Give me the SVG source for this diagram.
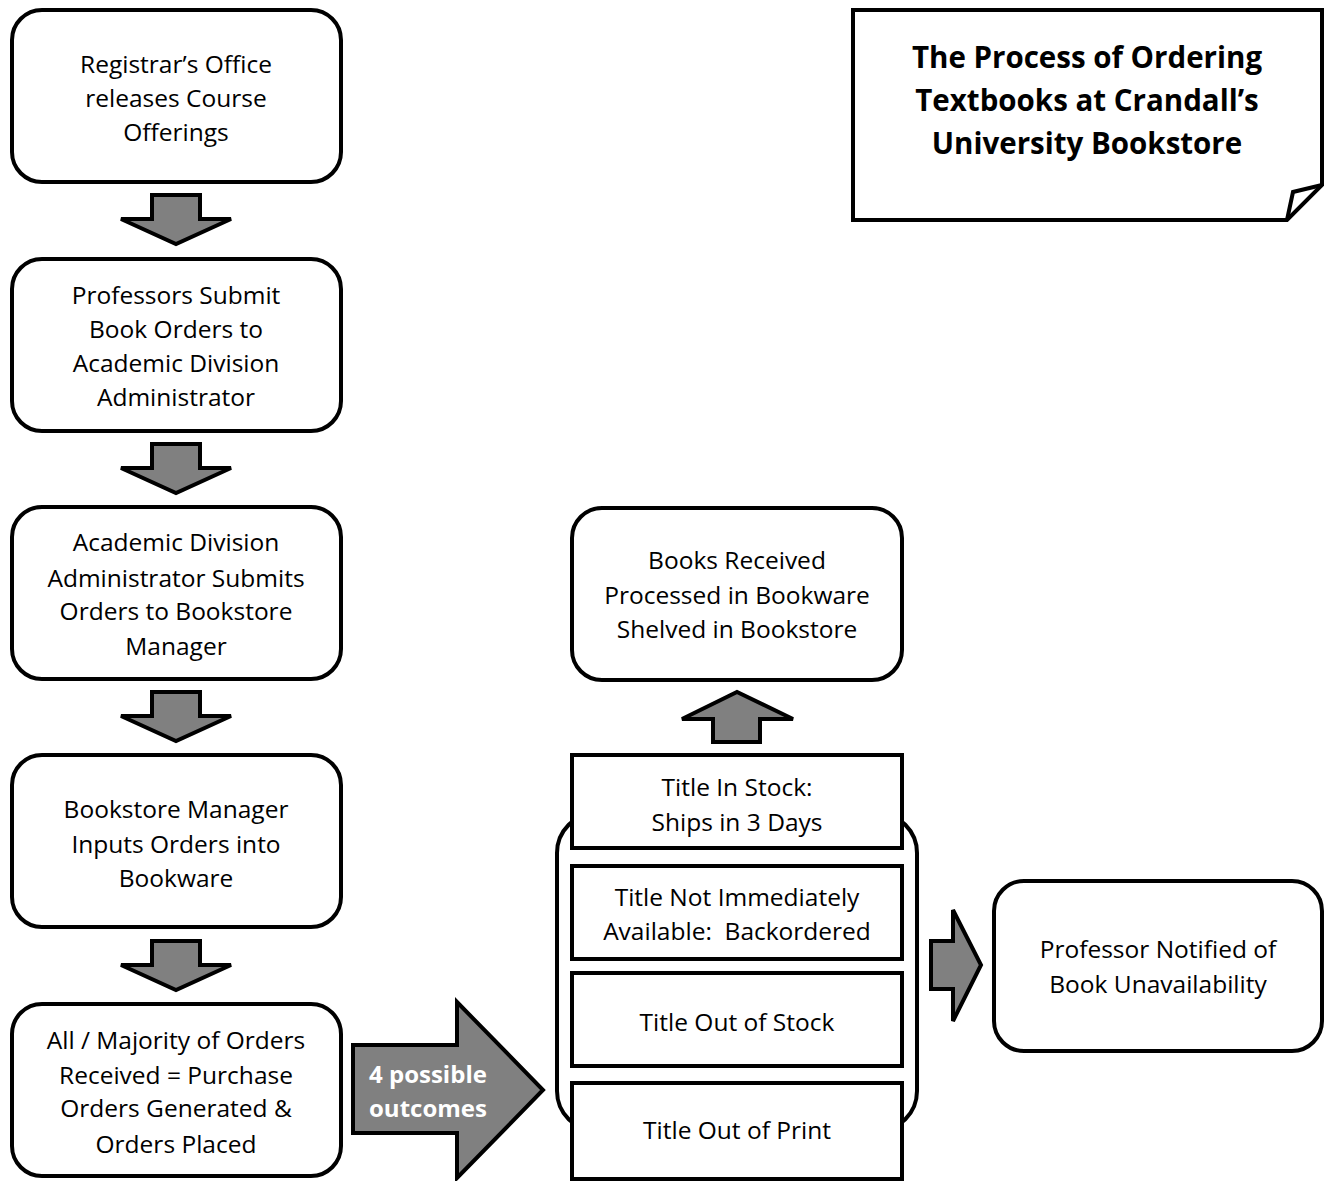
<svg xmlns="http://www.w3.org/2000/svg" width="1335" height="1181" viewBox="0 0 1335 1181">
<style>
.box{fill:#fff;stroke:#000;stroke-width:4}
.arr{fill:#808080;stroke:#000;stroke-width:4;stroke-linejoin:miter}
.t{font-family:"Open Sans","Noto Sans",sans-serif;font-size:24.5px;fill:#000;text-anchor:middle;dominant-baseline:central}
.title{font-family:"Open Sans","Noto Sans",sans-serif;font-size:29.5px;font-weight:bold;fill:#000;text-anchor:middle;dominant-baseline:central}
.w{font-family:"Open Sans","Noto Sans",sans-serif;font-size:24px;font-weight:bold;fill:#fff;dominant-baseline:central}
</style>
<rect width="1335" height="1181" fill="#fff"/>

<g id="title">
<path class="box" d="M853,10 H1322 V185 L1287,220 H853 Z"/>
<path fill="none" stroke="#000" stroke-width="4" d="M1287,220 L1293,192 L1322,185"/>
<text class="title" x="1087" y="56">The Process of Ordering</text>
<text class="title" x="1087" y="99">Textbooks at Crandall’s</text>
<text class="title" x="1087" y="142">University Bookstore</text>
</g>

<g id="step1">
<rect class="box" x="12" y="10" width="329" height="172" rx="30"/>
<text class="t" x="176" y="63">Registrar’s Office</text>
<text class="t" x="176" y="97">releases Course</text>
<text class="t" x="176" y="131">Offerings</text>
</g>
<g id="step2">
<rect class="box" x="12" y="259" width="329" height="172" rx="30"/>
<text class="t" x="176" y="294">Professors Submit</text>
<text class="t" x="176" y="328">Book Orders to</text>
<text class="t" x="176" y="362">Academic Division</text>
<text class="t" x="176" y="396">Administrator</text>
</g>
<g id="step3">
<rect class="box" x="12" y="507" width="329" height="172" rx="30"/>
<text class="t" x="176" y="541">Academic Division</text>
<text class="t" x="176" y="577">Administrator Submits</text>
<text class="t" x="176" y="610">Orders to Bookstore</text>
<text class="t" x="176" y="645">Manager</text>
</g>
<g id="step4">
<rect class="box" x="12" y="755" width="329" height="172" rx="30"/>
<text class="t" x="176" y="808">Bookstore Manager</text>
<text class="t" x="176" y="843">Inputs Orders into</text>
<text class="t" x="176" y="877">Bookware</text>
</g>
<g id="step5">
<rect class="box" x="12" y="1004" width="329" height="172" rx="30"/>
<text class="t" x="176" y="1039">All / Majority of Orders</text>
<text class="t" x="176" y="1074">Received = Purchase</text>
<text class="t" x="176" y="1107">Orders Generated &amp;</text>
<text class="t" x="176" y="1143">Orders Placed</text>
</g>

<g id="received">
<rect class="box" x="572" y="508" width="330" height="172" rx="30"/>
<text class="t" x="737" y="559">Books Received</text>
<text class="t" x="737" y="594">Processed in Bookware</text>
<text class="t" x="737" y="628">Shelved in Bookstore</text>
</g>

<g id="outcomes">
<rect class="box" x="557" y="813" width="360" height="318" rx="40"/>
<g id="instock">
<rect class="box" x="572" y="755" width="330" height="93"/>
<text class="t" x="737" y="786">Title In Stock:</text>
<text class="t" x="737" y="821">Ships in 3 Days</text>
</g>
<g id="backordered">
<rect class="box" x="572" y="866" width="330" height="93"/>
<text class="t" x="737" y="896">Title Not Immediately</text>
<text class="t" x="737" y="930" xml:space="preserve">Available:  Backordered</text>
</g>
<g id="outofstock">
<rect class="box" x="572" y="973" width="330" height="93"/>
<text class="t" x="737" y="1021">Title Out of Stock</text>
</g>
<g id="outofprint">
<rect class="box" x="572" y="1083" width="330" height="96"/>
<text class="t" x="737" y="1129">Title Out of Print</text>
</g>
</g>

<g id="professor">
<rect class="box" x="994" y="881" width="328" height="170" rx="30"/>
<text class="t" x="1158" y="948">Professor Notified of</text>
<text class="t" x="1158" y="983">Book Unavailability</text>
</g>

<g id="connectors">
<path class="arr" d="M152,195 H200 V219 H231 L176,244 L121,219 H152 Z"/>
<path class="arr" d="M152,444 H200 V468 H231 L176,493 L121,468 H152 Z"/>
<path class="arr" d="M152,692 H200 V716 H231 L176,741 L121,716 H152 Z"/>
<path class="arr" d="M152,941 H200 V965 H231 L176,990 L121,965 H152 Z"/>
<path class="arr" d="M713,742 H760 V719 H793 L737,692 L682,719 H713 Z"/>
<path class="arr" d="M931,941 H953 V910 L981,965 L953,1021 V989 H931 Z"/>
<path class="arr" d="M353,1045 H457 V1002 L543,1090 L457,1178 V1133 H353 Z"/>
<text class="w" x="369" y="1073">4 possible</text>
<text class="w" x="369" y="1107">outcomes</text>
</g>
</svg>
